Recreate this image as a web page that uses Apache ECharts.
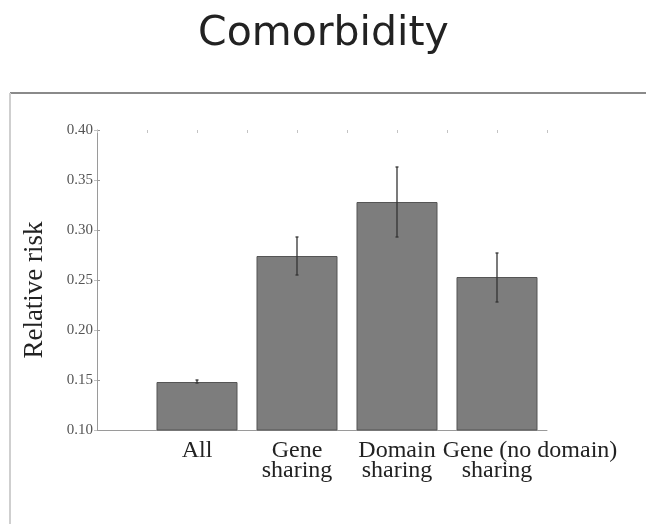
<!DOCTYPE html>
<html>
<head>
<meta charset="utf-8">
<script src="https://cdn.jsdelivr.net/npm/echarts@6/dist/echarts.min.js"></script>
<style>
  html, body { margin: 0; padding: 0; background: #fff; }
  #chart { width: 646px; height: 524px; }
</style>
</head>
<body>
<div id="chart"></div>
<script>
// data
var categories = ["All", "Gene\nsharing", "Domain\nsharing", "Gene (no domain)\nsharing"];
var positions = [1, 2, 3, 4];
var risk = [0.148, 0.274, 0.328, 0.253];
var errLow = [0.147, 0.255, 0.293, 0.228];
var errHigh = [0.150, 0.293, 0.363, 0.277];
var yTicks = [0.10, 0.15, 0.20, 0.25, 0.30, 0.35, 0.40];

var serif = "Liberation Serif";
var myChart = echarts.init(document.getElementById("chart"));

var barData = positions.map(function (p, i) { return [p, risk[i]]; });
var errData = positions.map(function (p, i) { return [p, errLow[i], errHigh[i]]; });

myChart.setOption({
  animation: false,
  title: {
    text: "Comorbidity",
    left: 193,
    top: 9,
    textStyle: { fontFamily: "DejaVu Sans", fontSize: 41, fontWeight: "normal", color: "#222" }
  },
  graphic: [
    // outer frame of the figure
    { type: "line", shape: { x1: 10, y1: 93, x2: 646, y2: 93 }, style: { stroke: "#8a8a8a", lineWidth: 2 } },
    { type: "line", shape: { x1: 10, y1: 93, x2: 10, y2: 524 }, style: { stroke: "#cfcfcf", lineWidth: 2 } }
  ],
  grid: { left: 97, right: 99, top: 130, bottom: 94 },
  xAxis: [
    {
      type: "value",
      min: 0,
      max: 4.5,
      interval: 0.5,
      axisLine: { show: true, lineStyle: { color: "#9a9a9a", width: 1 } },
      axisTick: { show: false },
      splitLine: { show: false },
      axisLabel: {
        margin: 11,
        fontFamily: serif,
        fontSize: 24,
        lineHeight: 20,
        color: "#222",
        formatter: function (v) {
          var i = positions.indexOf(v);
          if (i < 0) return "";
          if (i === 3) return "{a|Gene (no domain)}\n{b|sharing}";
          return categories[i];
        },
        rich: {
          a: { fontFamily: serif, fontSize: 24, lineHeight: 20, color: "#222", padding: [0, 0, 0, 66] },
          b: { fontFamily: serif, fontSize: 24, lineHeight: 20, color: "#222" }
        }
      }
    },
    {
      type: "value",
      position: "top",
      min: 0,
      max: 4.5,
      interval: 0.5,
      axisLine: { show: false },
      axisTick: { show: true, inside: true, length: 3, lineStyle: { color: "#c4c4c4" } },
      axisLabel: { show: false },
      splitLine: { show: false }
    }
  ],
  yAxis: [
    {
      type: "value",
      min: yTicks[0],
      max: yTicks[yTicks.length - 1],
      interval: 0.05,
      name: "Relative risk",
      nameLocation: "middle",
      nameRotate: 90,
      nameGap: 49,
      nameTextStyle: { fontFamily: serif, fontSize: 27, color: "#222", padding: [0, 20, 0, 0] },
      axisLine: { show: true, lineStyle: { color: "#9a9a9a", width: 1 } },
      axisTick: { show: true, inside: true, length: 3, lineStyle: { color: "#9a9a9a" } },
      splitLine: { show: false },
      axisLabel: {
        margin: 4,
        fontFamily: serif,
        fontSize: 15,
        color: "#555",
        formatter: function (v) { return v.toFixed(2); }
      }
    },
    {
      type: "value",
      position: "right",
      min: yTicks[0],
      max: yTicks[yTicks.length - 1],
      interval: 0.05,
      axisLine: { show: false },
      axisTick: { show: true, inside: true, length: 3, lineStyle: { color: "#c4c4c4" } },
      axisLabel: { show: false },
      splitLine: { show: false }
    }
  ],
  series: [
    {
      type: "bar",
      xAxisIndex: 0,
      yAxisIndex: 0,
      barWidth: 81,
      data: barData,
      itemStyle: { color: "#7d7d7d", borderColor: "#555", borderWidth: 1 }
    },
    {
      type: "custom",
      xAxisIndex: 0,
      yAxisIndex: 0,
      data: errData,
      z: 5,
      renderItem: function (params, api) {
        var lo = api.coord([api.value(0), api.value(1)]);
        var hi = api.coord([api.value(0), api.value(2)]);
        var stroke = { stroke: "#333", lineWidth: 1.3 };
        return {
          type: "group",
          children: [
            { type: "line", shape: { x1: hi[0], y1: hi[1], x2: lo[0], y2: lo[1] }, style: stroke },
            { type: "line", shape: { x1: hi[0] - 1.5, y1: hi[1], x2: hi[0] + 1.5, y2: hi[1] }, style: stroke },
            { type: "line", shape: { x1: lo[0] - 1.5, y1: lo[1], x2: lo[0] + 1.5, y2: lo[1] }, style: stroke }
          ]
        };
      }
    }
  ]
});
</script>
</body>
</html>
